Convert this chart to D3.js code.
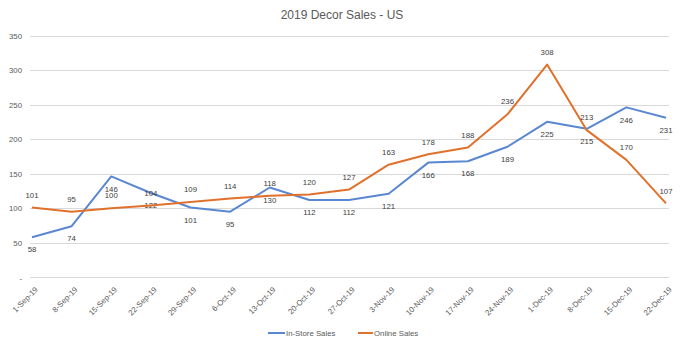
<!DOCTYPE html>
<meta charset="utf-8">
<style>
body{ margin:0; background:#fff; }
text{ font-family:"Liberation Sans", Arial, sans-serif; }
.grid line{ stroke:#d9d9d9; stroke-width:1px; shape-rendering:crispEdges; }
.tick text{ fill:#595959; font-size:7.8px; }
.lbl{ fill:#404040; font-size:7.8px; text-anchor:middle; }
.title{ fill:#595959; font-size:12px; text-anchor:middle; }
.line{ fill:none; stroke-width:2px; stroke-linejoin:round; }
</style>
<body>
<script src="https://cdn.jsdelivr.net/npm/d3@7"></script>
<script>
// weekly dates
var weeks = ["1-Sep-19","8-Sep-19","15-Sep-19","22-Sep-19","29-Sep-19","6-Oct-19","13-Oct-19",
  "20-Oct-19","27-Oct-19","3-Nov-19","10-Nov-19","17-Nov-19","24-Nov-19","1-Dec-19",
  "8-Dec-19","15-Dec-19","22-Dec-19"];
var inStore = [58,74,146,122,101,95,130,112,112,121,166,168,189,225,215,246,231];
var online  = [101,95,100,104,109,114,118,120,127,163,178,188,236,308,213,170,107];
var yTicks = [0,50,100,150,200,250,300,350];

var series = [
  {name:"In-Store Sales", values:inStore, color:"#5a87d1", below:true},
  {name:"Online Sales", values:online, color:"#e0712c", below:false}
];

var W = 685, H = 344;
var svg = d3.select("body").append("svg").attr("width", W).attr("height", H);

var x = d3.scalePoint().domain(weeks).range([32, 666]);
var y = d3.scaleLinear().domain([0, 350]).range([277.3, 35.5]);

svg.append("text").attr("class","title").attr("x", 342).attr("y", 19).text("2019 Decor Sales - US");

// gridlines + y labels
var gy = svg.append("g").attr("class","grid").attr("transform","translate(30,0)")
  .call(d3.axisLeft(y).tickValues(yTicks).tickSize(-639).tickPadding(8)
    .tickFormat(d => d === 0 ? "-" : d));
gy.select(".domain").remove();
gy.selectAll(".tick text").attr("dy", "0.35em");

// x labels
var gx = svg.append("g").attr("class","grid").attr("transform","translate(0,277.3)")
  .call(d3.axisBottom(x).tickSize(0).tickPadding(0));
gx.select(".domain").remove();
gx.selectAll(".tick text")
  .attr("text-anchor","end")
  .attr("transform","translate(4,11) rotate(-45)")
  .attr("dy","0.35em");

var line = d3.line().x((d,i) => x(weeks[i])).y(d => y(d));

series.forEach(function(s){
  svg.append("path").attr("class","line").attr("stroke", s.color).attr("d", line(s.values));
  svg.append("g").selectAll("text").data(s.values).join("text")
    .attr("class","lbl")
    .attr("x", (d,i) => x(weeks[i]))
    .attr("y", d => y(d) + (s.below ? 12.5 : -12.5))
    .attr("dy","0.35em")
    .text(d => d);
});

// legend
var leg = svg.append("g").attr("transform","translate(268,333)");
var lx = [0, 90];
series.forEach(function(s, i){
  var g = leg.append("g").attr("transform","translate(" + lx[i] + ",0)");
  g.append("line").attr("x1",0).attr("x2",i ? 15 : 17).attr("stroke", s.color).attr("stroke-width",2);
  g.append("text").attr("x", i ? 16 : 18).attr("dy","0.35em").attr("fill","#595959")
    .style("font-size","7.8px").text(s.name);
});
</script>
</body>
